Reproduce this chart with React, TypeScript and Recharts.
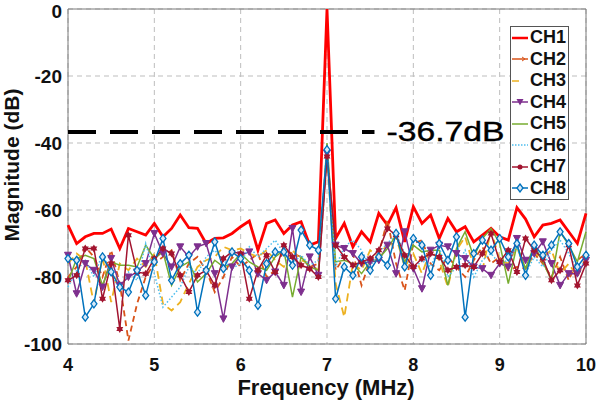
import React from "react";
import {
  LineChart,
  Line,
  XAxis,
  YAxis,
  CartesianGrid,
  ReferenceLine,
  ReferenceArea,
  Label,
} from "recharts";

const FREQ = [
  4.0, 4.1, 4.2, 4.3, 4.4, 4.5, 4.6, 4.7, 4.8, 4.9,
  5.0, 5.1, 5.2, 5.3, 5.4, 5.5, 5.6, 5.7, 5.8, 5.9,
  6.0, 6.1, 6.2, 6.3, 6.4, 6.5, 6.6, 6.7, 6.8, 6.9,
  7.0, 7.1, 7.2, 7.3, 7.4, 7.5, 7.6, 7.7, 7.8, 7.9,
  8.0, 8.1, 8.2, 8.3, 8.4, 8.5, 8.6, 8.7, 8.8, 8.9,
  9.0, 9.1, 9.2, 9.3, 9.4, 9.5, 9.6, 9.7, 9.8, 9.9,
  10.0,
];

const CH1 = [
  -64.5, -70, -68, -67, -67, -65.7, -71.5, -65.5, -66.5, -67.5,
  -64, -68, -65.5, -61.5, -65.3, -65.5, -70, -68.5, -68.3, -67,
  -65, -63.3, -72, -64, -63, -67, -64.5, -63.5, -70.5, -69.5,
  0, -68.5, -64, -71, -66.5, -69.5, -61, -64.5, -59.3, -69.5,
  -59, -64, -61.5, -68.5, -62.5, -66.5, -65, -69.5, -67.5, -65.5,
  -68, -69, -59.3, -62.7, -68, -64.5, -64, -63, -66.5, -70,
  -61,
];
const CH2 = [
  -80, -77, -71, -74, -80, -72, -82, -99, -88, -80,
  -76, -74, -72, -81, -76, -74, -78, -84.5, -80, -74,
  -77, -75, -73, -80, -78, -72, -73, -74, -77, -76,
  -43, -78, -74, -73, -82.5, -75, -73, -63, -76, -84,
  -70, -69, -76, -78, -74, -77, -80, -75, -71, -76,
  -74, -78, -77, -77.5, -73, -76, -80, -74, -81, -75,
  -73,
];
const CH3 = [
  -76, -73, -75, -88, -74, -87.5, -76, -78, -74.5, -77,
  -73, -88, -90, -87.5, -82, -77, -75, -74, -71, -72,
  -71.5, -73, -74, -72, -75, -77, -72, -75, -76, -78,
  -44, -82, -92, -76, -78, -72, -74, -70, -68, -77,
  -73, -79, -72, -75, -83, -72, -68, -77, -78, -66,
  -75, -76, -71, -78, -73, -74, -72, -79, -76, -80,
  -74,
];
const CH4 = [
  -73.5, -85, -76, -78, -83, -74.5, -82.5, -80, -78.5, -76,
  -67, -73, -77, -71, -74, -71, -70, -79, -92.5, -77,
  -73.5, -72.5, -79, -81, -78.5, -82.5, -65.5, -84.5, -74, -79.5,
  -43, -70.5, -71.5, -73, -76, -75.5, -75, -70.5, -79, -66.5,
  -77.5, -83.5, -72, -70.5, -71, -73, -74.5, -77, -77.5, -79.5,
  -76, -77, -68.5, -75, -73, -69.5, -76, -82.5, -79, -79,
  -75,
];
const CH5 = [
  -81.5, -74.5, -73.5, -74.5, -82.5, -75.5, -76.5, -76.5, -77, -70.5,
  -74.5, -72.5, -82.5, -77, -75.5, -81.5, -79, -75, -77, -76,
  -73, -75.5, -77, -78, -74, -72, -86, -74, -77, -78,
  -40, -75.5, -75, -76, -79, -75.5, -74.5, -71.5, -67.5, -75.5,
  -70.5, -72.5, -72, -72, -82.5, -71.5, -66.5, -74, -68.5, -65.5,
  -70, -82, -70.5, -77.5, -70.5, -75.5, -81, -66.5, -70.5, -75.5,
  -66.5,
];
const CH6 = [
  -83, -78, -75, -80, -73, -79, -84, -78.5, -81, -70,
  -79, -89, -86, -83, -77, -79, -74, -72, -75, -77.5,
  -76, -71, -74, -71.5, -69, -73, -76, -73.5, -76.5, -75,
  -41, -77, -71, -69, -72, -77, -72.5, -70, -67, -73,
  -78, -75, -77, -71, -80, -77, -72, -80, -75, -73,
  -76, -75, -71, -79, -74, -77, -72, -69, -73, -78,
  -75,
];
const CH7 = [
  -81, -79.5, -71.5, -71.5, -86.5, -76, -95.5, -67.5, -78.5, -79,
  -74.5, -71.5, -73, -79.5, -84.5, -79.5, -78, -82.5, -74.5, -72.5,
  -73, -86.5, -78, -73.5, -78.5, -70.5, -74, -76.5, -77.5, -80,
  -44, -70.5, -74, -76.5, -75.5, -74.5, -72, -65.5, -67.5, -73.5,
  -77, -74.5, -73, -74, -78, -77, -76.5, -77, -73, -67,
  -75.5, -72, -78.5, -68.5, -72, -74.5, -81, -78, -70.5, -82.5,
  -76,
];
const CH8 = [
  -74.5, -75, -92, -88, -74, -78.5, -83, -84.5, -78, -85.5,
  -75.5, -68.5, -81, -76, -73.5, -90.5, -78, -69.5, -77.5, -72.5,
  -74.5, -78, -88.5, -76, -72.5, -72.5, -76.5, -66, -70.5, -72,
  -42, -86.5, -77, -79.5, -74, -78, -74, -76.5, -67, -77,
  -68.5, -70.5, -79.5, -70, -75, -68, -92, -73, -69, -72,
  -68.5, -74, -70, -79.5, -70.5, -73.5, -70.5, -66.5, -70, -77,
  -73.5,
];

const X_TICKS = [4, 5, 6, 7, 8, 9, 10];
const Y_TICKS = [-100, -80, -60, -40, -20, 0];
const DB_LEVEL = -36.7;
const DB_TEXT = "-36.7dB";

const FONT = '"Liberation Sans", Arial, sans-serif';

const data = FREQ.map((f, i) => ({
  f,
  ch1: CH1[i],
  ch2: CH2[i],
  ch3: CH3[i],
  ch4: CH4[i],
  ch5: CH5[i],
  ch6: CH6[i],
  ch7: CH7[i],
  ch8: CH8[i],
}));

// marker shapes, roughly like matlab's
const triDown = (c: string) => (p: any) => {
  const { cx, cy, index } = p;
  if (cx == null || cy == null) return <g key={index} />;
  return (
    <path
      key={index}
      d={`M${cx - 3.5},${cy - 3} L${cx + 3.5},${cy - 3} L${cx},${cy + 3.5} Z`}
      fill={c}
      stroke={c}
    />
  );
};

const star = (c: string) => (p: any) => {
  const { cx, cy, index } = p;
  if (cx == null || cy == null) return <g key={index} />;
  const r = 4;
  const a = `M${cx},${cy - r} L${cx + r * 0.87},${cy + r * 0.5} L${cx - r * 0.87},${cy + r * 0.5} Z`;
  const b = `M${cx},${cy + r} L${cx + r * 0.87},${cy - r * 0.5} L${cx - r * 0.87},${cy - r * 0.5} Z`;
  return (
    <g key={index}>
      <path d={a} fill={c} />
      <path d={b} fill={c} />
    </g>
  );
};

const diamond = (c: string) => (p: any) => {
  const { cx, cy, index } = p;
  if (cx == null || cy == null) return <g key={index} />;
  return (
    <path
      key={index}
      d={`M${cx},${cy - 4} L${cx + 3},${cy} L${cx},${cy + 4} L${cx - 3},${cy} Z`}
      fill="#d8e9f8"
      stroke={c}
      strokeWidth={1.3}
    />
  );
};

const SERIES = [
  { key: "ch1", name: "CH1", color: "#FF0000", width: 2.8, dash: undefined, dot: null },
  { key: "ch2", name: "CH2", color: "#D95319", width: 1.8, dash: "6 4", dot: null },
  { key: "ch3", name: "CH3", color: "#EDB120", width: 1.8, dash: "8 5", dot: null },
  { key: "ch4", name: "CH4", color: "#7E2F8E", width: 1.5, dash: undefined, dot: "tri" },
  { key: "ch5", name: "CH5", color: "#77AC30", width: 1.5, dash: undefined, dot: null },
  { key: "ch6", name: "CH6", color: "#4DBEEE", width: 1.5, dash: "1.5 2", dot: null },
  { key: "ch7", name: "CH7", color: "#A2142F", width: 1.5, dash: undefined, dot: "star" },
  { key: "ch8", name: "CH8", color: "#0072BD", width: 1.5, dash: undefined, dot: "diamond" },
];

function dotFor(s: (typeof SERIES)[number]) {
  if (s.dot === "tri") return triDown(s.color);
  if (s.dot === "star") return star(s.color);
  if (s.dot === "diamond") return diamond(s.color);
  return false;
}

function legendMarker(s: (typeof SERIES)[number]) {
  const cx = 8;
  const cy = 5;
  if (s.dot === "tri")
    return <path d={`M${cx - 3.5},${cy - 3} L${cx + 3.5},${cy - 3} L${cx},${cy + 3.5} Z`} fill={s.color} />;
  if (s.dot === "star") return <circle cx={cx} cy={cy} r={2.5} fill={s.color} />;
  if (s.dot === "diamond")
    return (
      <path
        d={`M${cx},${cy - 4} L${cx + 3},${cy} L${cx},${cy + 4} L${cx - 3},${cy} Z`}
        fill="#d8e9f8"
        stroke={s.color}
        strokeWidth={1.3}
      />
    );
  if (s.key === "ch2") return <path d="M10,3 L13,5 L10,7" fill="none" stroke={s.color} strokeWidth={1} />;
  return null;
}

const renderDbLabel = (props: any) => {
  const vb = props.viewBox || {};
  const x = (vb.x ?? 68) + (vb.width ?? 306) + 12;
  const y = vb.y ?? 133;
  return (
    <text
      x={x}
      y={y}
      dominantBaseline="central"
      fontFamily={FONT}
      fontSize={27}
      textLength={118}
      lengthAdjust="spacingAndGlyphs"
      fill="#000"
      stroke="#000"
      strokeWidth={0.4}
    >
      {DB_TEXT}
    </text>
  );
};

export default function App() {
  return (
    <div
      style={{
        position: "fixed",
        left: 0,
        top: 0,
        width: 600,
        height: 400,
        background: "#fff",
        fontFamily: FONT,
      }}
    >
      <LineChart
        width={600}
        height={400}
        data={data}
        margin={{ top: 9, right: 14, bottom: 0, left: 8 }}
      >
        <CartesianGrid stroke="#bdbdbd" strokeDasharray="5 4" />
        <XAxis
          dataKey="f"
          type="number"
          domain={[4, 10]}
          ticks={X_TICKS}
          axisLine={false}
          tickLine={false}
          tickSize={0}
          tickMargin={14}
          height={56}
          tick={{ fontSize: 18, fontWeight: 700, fill: "#111", fontFamily: FONT }}
        >
          <Label
            content={() => (
              <text
                x={326}
                y={395}
                textAnchor="middle"
                fontFamily={FONT}
                fontSize={22}
                fontWeight={700}
                fill="#111"
              >
                Frequency (MHz)
              </text>
            )}
          />
        </XAxis>
        <YAxis
          type="number"
          domain={[-100, 0]}
          ticks={Y_TICKS}
          axisLine={false}
          tickLine={false}
          tickSize={0}
          tickMargin={6}
          width={60}
          tick={{ fontSize: 19, fontWeight: 700, fill: "#111", fontFamily: FONT }}
        >
          <Label
            content={() => (
              <text
                x={19}
                y={165}
                transform="rotate(-90 19 165)"
                textAnchor="middle"
                fontFamily={FONT}
                fontSize={21}
                fontWeight={700}
                fill="#111"
              >
                Magnitude (dB)
              </text>
            )}
          />
        </YAxis>
        <ReferenceArea
          x1={4}
          x2={10}
          y1={-100}
          y2={0}
          fill="none"
          stroke="#7a7a7a"
          strokeWidth={1}
        />
        {SERIES.map((s) => (
          <Line
            key={s.key}
            dataKey={s.key}
            name={s.name}
            type="linear"
            stroke={s.color}
            strokeWidth={s.width}
            strokeDasharray={s.dash}
            dot={dotFor(s) as any}
            activeDot={false}
            isAnimationActive={false}
          />
        ))}
        <ReferenceLine
          segment={[
            { x: 4, y: DB_LEVEL },
            { x: 7.55, y: DB_LEVEL },
          ]}
          stroke="#000"
          strokeWidth={4}
          strokeDasharray="28 14"
          label={renderDbLabel}
          ifOverflow="visible"
        />
      </LineChart>

      {/* legend box, top right like the matlab one */}
      <div
        style={{
          position: "absolute",
          left: 510,
          top: 26,
          width: 59,
          height: 174,
          border: "1px solid #555",
          background: "#fff",
          boxSizing: "border-box",
        }}
      >
        {SERIES.map((s) => (
          <div
            key={s.key}
            style={{ display: "flex", alignItems: "center", height: 21.5 }}
          >
            <svg width={17} height={10} style={{ marginLeft: 1, flexShrink: 0 }}>
              <line
                x1={0}
                y1={5}
                x2={16}
                y2={5}
                stroke={s.color}
                strokeWidth={s.key === "ch1" ? 2.5 : 1.5}
                strokeDasharray={s.key === "ch6" ? "1.5 1.5" : s.key === "ch3" ? "7 9" : undefined}
              />
              {legendMarker(s)}
            </svg>
            <span
              style={{
                fontSize: 18,
                fontWeight: 700,
                color: "#111",
                marginLeft: 1,
                lineHeight: "21px",
              }}
            >
              {s.name}
            </span>
          </div>
        ))}
      </div>
    </div>
  );
}
